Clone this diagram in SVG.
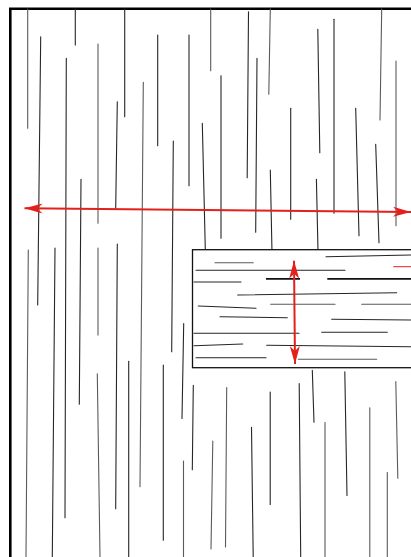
<svg xmlns="http://www.w3.org/2000/svg" width="411" height="557" viewBox="0 0 411 557">
<style>
.g{stroke:#262626;stroke-width:1.1;stroke-linecap:round;fill:none}
.l{stroke:#5a5a5a;stroke-width:1.1;stroke-linecap:round;fill:none}
.h{stroke:#262626;stroke-width:1.1;stroke-linecap:round;fill:none}
.hb{stroke:#111;stroke-width:1.7;fill:none}
.red{stroke:#e3211c;stroke-width:2;fill:none}
</style>
<defs>
<marker id="ah" markerUnits="userSpaceOnUse" markerWidth="20" markerHeight="12" viewBox="-19 -6 20 12" refX="0" refY="0" orient="auto-start-reverse">
<path d="M0,0 L-18,-5 L-13,0 L-18,5 Z" fill="#e3211c"/>
</marker>
</defs>
<rect width="411" height="557" fill="#fff"/>
<g id="frame">
<path d="M10.3,557 L10.3,8.7 L411,8.7" stroke="#000" stroke-width="2.6" fill="none"/>
</g>
<g id="grain">
<line class="l" x1="27.7" y1="9" x2="27.7" y2="128.3"/>
<line class="g" x1="40.7" y1="36.7" x2="37.7" y2="305"/>
<line class="g" x1="75.3" y1="9" x2="75.3" y2="45"/>
<line class="g" x1="124.7" y1="9" x2="124.7" y2="116.7"/>
<line class="g" x1="66.3" y1="58.3" x2="65" y2="517.7"/>
<line class="l" x1="98" y1="44" x2="98" y2="223.3"/>
<line class="g" x1="117.3" y1="101.7" x2="115.7" y2="208.3"/>
<line class="g" x1="81" y1="179.3" x2="79.3" y2="404.3"/>
<line class="l" x1="28.3" y1="250" x2="26" y2="557"/>
<line class="g" x1="55" y1="248" x2="52.3" y2="557"/>
<line class="l" x1="98" y1="248" x2="98" y2="335"/>
<line class="g" x1="117.3" y1="244" x2="115.7" y2="508.7"/>
<line class="l" x1="97.3" y1="373.7" x2="100" y2="557"/>
<line class="g" x1="128.7" y1="361.3" x2="128.7" y2="557"/>
<line class="l" x1="143.3" y1="82.3" x2="140" y2="486.7"/>
<line class="g" x1="157.7" y1="35" x2="157.7" y2="145.7"/>
<line class="g" x1="173.3" y1="141" x2="171.7" y2="351.7"/>
<line class="g" x1="189" y1="35" x2="189" y2="185.7"/>
<line class="g" x1="202.3" y1="123.3" x2="205.3" y2="249.3"/>
<line class="l" x1="210.7" y1="9" x2="210.7" y2="70.7"/>
<line class="g" x1="221" y1="75.7" x2="221" y2="238.3"/>
<line class="g" x1="248.5" y1="11.7" x2="247.2" y2="177.7"/>
<line class="g" x1="257" y1="58.3" x2="255.7" y2="232.3"/>
<line class="l" x1="270.3" y1="9" x2="268.8" y2="94.3"/>
<line class="g" x1="270.3" y1="170" x2="272" y2="252"/>
<line class="g" x1="290.7" y1="108.3" x2="290.7" y2="219.3"/>
<line class="g" x1="317.8" y1="29.3" x2="319.8" y2="152.7"/>
<line class="g" x1="334" y1="19.3" x2="334" y2="213.3"/>
<line class="g" x1="316.4" y1="179.3" x2="318" y2="251"/>
<line class="g" x1="355.7" y1="108.3" x2="359" y2="235.7"/>
<line class="l" x1="381.7" y1="9" x2="380" y2="120"/>
<line class="g" x1="375.7" y1="144.3" x2="379" y2="242.7"/>
<line class="l" x1="396" y1="61" x2="396" y2="225.7"/>
<line class="g" x1="183.7" y1="323.5" x2="182" y2="418.5"/>
<line class="g" x1="163.3" y1="365" x2="163.3" y2="540.3"/>
<line class="g" x1="193.3" y1="385.3" x2="192.3" y2="469.7"/>
<line class="l" x1="226.7" y1="387.5" x2="225.5" y2="547"/>
<line class="g" x1="270.2" y1="392" x2="270.2" y2="504.5"/>
<line class="l" x1="212.8" y1="441" x2="211" y2="549"/>
<line class="g" x1="251.5" y1="427.2" x2="253.2" y2="557"/>
<line class="l" x1="183.5" y1="461" x2="183.5" y2="557"/>
<line class="g" x1="299.2" y1="383.5" x2="300.7" y2="557"/>
<line class="g" x1="312.3" y1="370.2" x2="314" y2="422.2"/>
<line class="l" x1="325" y1="422.5" x2="325" y2="557"/>
<line class="g" x1="344.8" y1="371.8" x2="347" y2="495.5"/>
<line class="l" x1="369.8" y1="407.7" x2="369.8" y2="557"/>
<line class="l" x1="395.8" y1="381.5" x2="397.8" y2="478.2"/>
<line class="l" x1="387.3" y1="472.5" x2="387.3" y2="557"/>
</g>
<g id="board">
<rect x="192.5" y="249.7" width="230" height="118" fill="#fff" stroke="#111" stroke-width="1.3"/>
<line class="l" x1="215" y1="262.7" x2="253.3" y2="262.7"/>
<line class="h" x1="196" y1="270.3" x2="345" y2="270.3"/>
<line class="h" x1="326" y1="256.7" x2="411" y2="255"/>
<line class="h" x1="194" y1="282" x2="241" y2="282"/>
<line class="hb" x1="266" y1="278.8" x2="300" y2="278.8"/>
<line class="hb" x1="327.3" y1="278.8" x2="411" y2="278.8"/>
<line class="h" x1="237.7" y1="295" x2="396.7" y2="292.7"/>
<line class="h" x1="198.3" y1="306" x2="256" y2="308.3"/>
<line class="l" x1="270.7" y1="304.3" x2="335" y2="304.3"/>
<line class="l" x1="361.7" y1="304.3" x2="411" y2="304.3"/>
<line class="h" x1="220" y1="316.7" x2="287.3" y2="317.7"/>
<line class="h" x1="331.7" y1="319.3" x2="411" y2="320"/>
<line class="h" x1="194" y1="333.3" x2="299" y2="333.3"/>
<line class="h" x1="321.7" y1="332.3" x2="387.3" y2="332.3"/>
<line class="h" x1="194" y1="345.7" x2="242.7" y2="344"/>
<line class="h" x1="266.7" y1="345.3" x2="411" y2="346.7"/>
<line class="h" x1="196" y1="357.7" x2="266" y2="357.7"/>
<line class="l" x1="298.3" y1="359.3" x2="376.7" y2="359.3"/>
<line x1="393.3" y1="266.7" x2="411" y2="266.7" stroke="#e3211c" stroke-width="1"/>
</g>
<g id="connectors">
<line id="width-arrow" class="red" x1="24.5" y1="208.3" x2="411" y2="212" marker-start="url(#ah)" marker-end="url(#ah)"/>
<line id="thickness-arrow" class="red" x1="294" y1="260.7" x2="295" y2="364" marker-start="url(#ah)" marker-end="url(#ah)"/>
</g>
</svg>
